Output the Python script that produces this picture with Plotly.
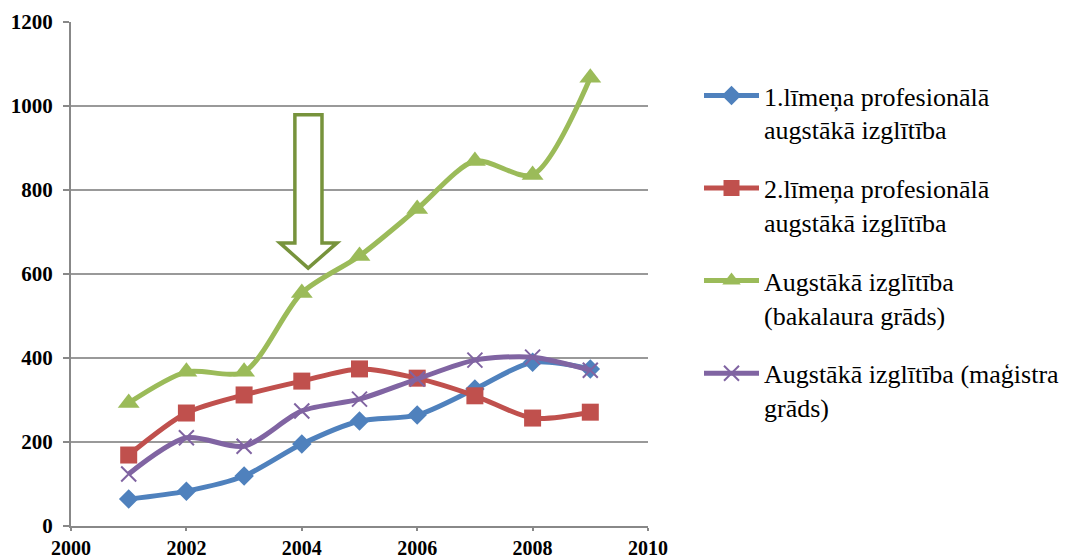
import plotly.graph_objects as go

years = [2001, 2002, 2003, 2004, 2005, 2006, 2007, 2008, 2009]
names = [
    "1.līmeņa profesionālā<br>augstākā izglītība",
    "2.līmeņa profesionālā<br>augstākā izglītība",
    "Augstākā izglītība<br>(bakalaura grāds)",
    "Augstākā izglītība (maģistra<br>grāds)",
]
lvl1 = [64, 83, 119, 195, 250, 264, 326, 390, 374]
lvl2 = [169, 269, 312, 345, 374, 352, 310, 257, 271]
bach = [293, 367, 367, 555, 643, 755, 869, 836, 1067]
mast = [124, 210, 190, 274, 302, 350, 395, 402, 371]

series = [lvl1, lvl2, bach, mast]
colors = ["#4F81BD", "#C0504D", "#9BBB59", "#8064A2"]
symbols = ["diamond", "square", "triangle-up", "x-thin"]
sizes = [15, 17, 19, 15]

SERIF = "Liberation Serif, Times New Roman, Times, serif"
OFF = 8  # default page body margin

fig = go.Figure()
for i, (vals, name, col, sym, sz) in enumerate(zip(series, names, colors, symbols, sizes)):
    marker = dict(symbol=sym, size=sz, color=col)
    if sym == "x-thin":
        marker["line"] = dict(color=col, width=2)
    fig.add_trace(go.Scatter(
        x=years, y=vals, name=name, mode="lines+markers",
        line=dict(color=col, width=5, shape="spline", smoothing=0.8),
        marker=marker, legendgroup=f"g{i}",
    ))

# hollow block arrow annotation
ax = [2003.88, 2004.35, 2004.35, 2004.61, 2004.11, 2003.62, 2003.88]
ay = [979, 979, 674, 674, 614, 674, 674]
path = "M " + " L ".join(f"{x},{y}" for x, y in zip(ax, ay)) + " Z"
fig.add_shape(type="path", path=path, xref="x", yref="y",
              line=dict(color="#77933C", width=3.5), fillcolor="white", layer="above")

W, H = 1070 - OFF, 560 - OFF
ytickfont = dict(family=SERIF, size=21, color="black", weight="bold")
xtickfont = dict(family=SERIF, size=20, color="black", weight="bold")
fig.update_layout(
    width=W, height=H,
    margin=dict(l=71 - OFF, r=422, t=22 - OFF, b=34, autoexpand=False),
    plot_bgcolor="white", paper_bgcolor="white",
    font=dict(family=SERIF),
    xaxis=dict(range=[2000, 2010], dtick=2, tick0=2000, showgrid=False,
               showline=True, linecolor="#888888", linewidth=2,
               ticks="outside", ticklen=3, tickcolor="#888888", tickwidth=2,
               tickfont=xtickfont, zeroline=False, automargin=False),
    yaxis=dict(range=[0, 1200], dtick=200, showgrid=True, gridcolor="#999999", gridwidth=2,
               showline=True, linecolor="#888888", linewidth=2,
               ticks="outside", ticklen=6, tickcolor="#888888", tickwidth=2,
               tickfont=ytickfont, zeroline=False, automargin=False,
               ticklabelstandoff=6),
    legend=dict(xref="container", yref="container", x=(699 - OFF) / W, y=1 - (72 - OFF) / H,
                xanchor="left", yanchor="top", valign="top",
                font=dict(family=SERIF, size=26, color="black"),
                itemwidth=55, tracegroupgap=22, bgcolor="rgba(0,0,0,0)",
                maxheight=1.0),
    showlegend=True,
)

fig.write_html("out.html")
